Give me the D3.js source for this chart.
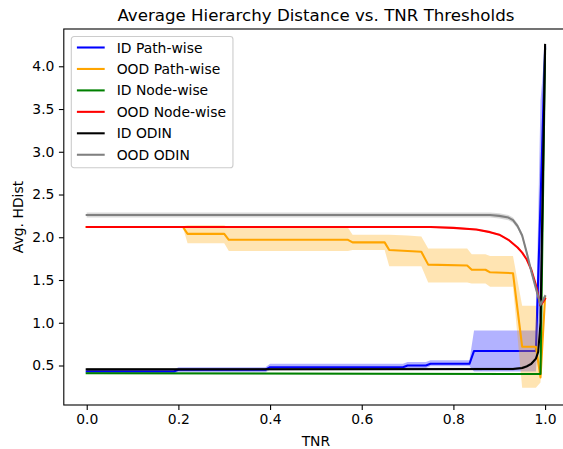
<!DOCTYPE html>
<html>
<head>
<meta charset="utf-8">
<script src="https://cdn.jsdelivr.net/npm/d3@7"></script>
<style>
  body { margin: 0; background: #fff; }
  text { font-family: "DejaVu Sans", sans-serif; fill: #000; }
</style>
</head>
<body>
<script>
  var width = 563
  var height = 449

  // rows: [tnr, mean, lower, upper]
  var idPath = [
    [0.00, 0.43, 0.41, 0.45], [0.19, 0.43, 0.41, 0.45],
    [0.20, 0.45, 0.42, 0.48], [0.39, 0.45, 0.42, 0.48],
    [0.40, 0.48, 0.45, 0.52], [0.69, 0.48, 0.45, 0.52],
    [0.70, 0.50, 0.47, 0.54], [0.74, 0.50, 0.47, 0.54],
    [0.75, 0.52, 0.49, 0.56], [0.835, 0.52, 0.49, 0.56],
    [0.845, 0.67, 0.43, 0.91], [0.98, 0.67, 0.43, 0.91],
    [0.99, 2.40, 1.20, 3.60], [1.00, 4.22, 4.20, 4.24]
  ]
  var oodPath = [
    [0.00, 2.12, 2.11, 2.13], [0.21, 2.12, 2.11, 2.13],
    [0.22, 2.04, 1.93, 2.14], [0.30, 2.04, 1.93, 2.14],
    [0.31, 1.97, 1.84, 2.11], [0.57, 1.97, 1.84, 2.11],
    [0.58, 1.94, 1.85, 2.03], [0.65, 1.94, 1.85, 2.03],
    [0.66, 1.85, 1.66, 2.03], [0.70, 1.84, 1.66, 2.02],
    [0.73, 1.83, 1.66, 2.01], [0.745, 1.68, 1.47, 1.87],
    [0.83, 1.67, 1.47, 1.87], [0.84, 1.62, 1.46, 1.80],
    [0.87, 1.62, 1.46, 1.80], [0.88, 1.59, 1.42, 1.78],
    [0.93, 1.58, 1.42, 1.78], [0.95, 0.72, 0.24, 1.20],
    [0.98, 0.72, 0.24, 1.20], [0.99, 0.36, 0.30, 0.45],
    [1.00, 1.30, 1.25, 1.36]
  ]
  var idNode = [
    [0.00, 0.41, 0.40, 0.42], [0.98, 0.40, 0.39, 0.41],
    [0.99, 0.40, 0.39, 0.41], [1.00, 4.20, 4.18, 4.22]
  ]
  var oodNode = [
    [0.00, 2.12, 2.11, 2.13], [0.75, 2.12, 2.11, 2.13],
    [0.80, 2.11, 2.10, 2.12], [0.85, 2.09, 2.08, 2.10],
    [0.88, 2.06, 2.05, 2.07], [0.90, 2.03, 2.02, 2.04],
    [0.92, 1.97, 1.96, 1.98], [0.94, 1.88, 1.87, 1.89],
    [0.95, 1.82, 1.81, 1.83], [0.96, 1.74, 1.73, 1.75],
    [0.97, 1.62, 1.61, 1.63], [0.98, 1.44, 1.43, 1.45],
    [0.99, 1.20, 1.19, 1.21], [1.00, 1.28, 1.27, 1.29]
  ]
  var idOdin = [
    [0.00, 0.455, 0.44, 0.47], [0.93, 0.46, 0.445, 0.475],
    [0.95, 0.47, 0.455, 0.485], [0.96, 0.49, 0.475, 0.505],
    [0.97, 0.52, 0.505, 0.535], [0.98, 0.58, 0.565, 0.595],
    [0.985, 0.66, 0.645, 0.675], [0.99, 1.00, 0.98, 1.02],
    [1.00, 4.25, 4.23, 4.27]
  ]
  var oodOdin = [
    [0.00, 2.26, 2.23, 2.29], [0.88, 2.26, 2.23, 2.29],
    [0.90, 2.25, 2.22, 2.28], [0.92, 2.23, 2.20, 2.26],
    [0.93, 2.20, 2.17, 2.23], [0.94, 2.13, 2.10, 2.16],
    [0.95, 2.02, 1.99, 2.05], [0.96, 1.82, 1.79, 1.85],
    [0.97, 1.60, 1.57, 1.63], [0.98, 1.40, 1.37, 1.43],
    [0.99, 1.21, 1.18, 1.24], [1.00, 1.31, 1.28, 1.34]
  ]

  var labels = ["ID Path-wise", "OOD Path-wise", "ID Node-wise", "OOD Node-wise", "ID ODIN", "OOD ODIN"]
  var colors = ["blue", "orange", "green", "red", "black", "gray"]
  var xTicks = [0, 0.2, 0.4, 0.6, 0.8, 1.0]
  var yTicks = [0.5, 1.0, 1.5, 2.0, 2.5, 3.0, 3.5, 4.0]

  var series = [idPath, oodPath, idNode, oodNode, idOdin, oodOdin].map(function(d, i) {
    return {label: labels[i], color: colors[i], data: d}
  })

  // axes box (right spine falls just outside the picture)
  var axL = 63.8, axR = 568, axT = 29, axB = 405

  var x = d3.scaleLinear().domain([-0.05, 1.05]).range([axL, axR])
  var y = d3.scaleLinear().domain([0.038, 4.436]).range([axB, axT])

  var svg = d3.select("body").append("svg")
              .attr("width", width)
              .attr("height", height)

  svg.append("defs").append("clipPath").attr("id", "clip")
     .append("rect")
     .attr("x", axL).attr("y", axT)
     .attr("width", axR - axL).attr("height", axB - axT)

  var plot = svg.append("g").attr("clip-path", "url(#clip)")

  var line = d3.line()
               .x(function(d) { return x(d[0]) })
               .y(function(d) { return y(d[1]) })

  var band = d3.area()
               .x(function(d) { return x(d[0]) })
               .y0(function(d) { return y(d[2]) })
               .y1(function(d) { return y(d[3]) })

  series.forEach(function(s) {
    plot.append("path")
        .attr("d", line(s.data))
        .attr("fill", "none")
        .attr("stroke", s.color)
        .attr("stroke-width", 2.08)
        .attr("stroke-linejoin", "round")
        .attr("stroke-linecap", "square")
    plot.append("path")
        .attr("d", band(s.data))
        .attr("fill", s.color)
        .attr("fill-opacity", 0.3)
  })

  // axes
  svg.append("g")
     .attr("transform", "translate(0," + axB + ")")
     .call(d3.axisBottom(x).tickValues(xTicks).tickFormat(d3.format(".1f")).tickSizeInner(4.9).tickSizeOuter(0).tickPadding(4.5))
  svg.append("g")
     .attr("transform", "translate(" + axL + ",0)")
     .call(d3.axisLeft(y).tickValues(yTicks).tickFormat(d3.format(".1f")).tickSizeInner(4.9).tickSizeOuter(0).tickPadding(4.5))

  svg.selectAll(".domain").remove()
  svg.selectAll(".tick line").attr("stroke", "#000").attr("stroke-width", 1.1)
  svg.selectAll(".tick text").style("font-family", "DejaVu Sans").style("font-size", "13.9px").attr("fill", "#000")

  // spines
  svg.append("rect")
     .attr("x", axL).attr("y", axT)
     .attr("width", axR - axL).attr("height", axB - axT)
     .attr("fill", "none").attr("stroke", "#000").attr("stroke-width", 1.1)

  svg.append("text")
     .attr("x", (axL + axR) / 2).attr("y", 20.5)
     .attr("text-anchor", "middle")
     .style("font-size", "16.67px")
     .text("Average Hierarchy Distance vs. TNR Thresholds")

  svg.append("text")
     .attr("x", (axL + axR) / 2).attr("y", 446)
     .attr("text-anchor", "middle")
     .style("font-size", "13.9px")
     .text("TNR")

  svg.append("text")
     .attr("transform", "translate(23," + (axT + axB) / 2 + ") rotate(-90)")
     .attr("text-anchor", "middle")
     .style("font-size", "13.9px")
     .text("Avg. HDist")

  // legend
  var fs = 13.9
  var lg = svg.append("g").attr("transform", "translate(" + (axL + 7.5) + "," + (axT + 7.5) + ")")
  var box = lg.append("rect")
              .attr("fill", "#fff").attr("fill-opacity", 0.8)
              .attr("stroke", "#cccccc").attr("stroke-width", 1.1)
              .attr("rx", 2.8)
  var rowH = 21.45
  var maxW = 0
  series.forEach(function(s, i) {
    var cy = 11 + i * rowH
    lg.append("line")
      .attr("x1", 5.6).attr("x2", 5.6 + 27.8)
      .attr("y1", cy).attr("y2", cy)
      .attr("stroke", s.color).attr("stroke-width", 2.08)
    var t = lg.append("text")
      .attr("x", 5.6 + 27.8 + 12).attr("y", cy + 5)
      .style("font-size", fs + "px")
      .text(s.label)
    maxW = Math.max(maxW, t.node().getComputedTextLength())
  })
  box.attr("width", 5.6 + 27.8 + 12 + maxW + 7)
     .attr("height", 11 + 5 * rowH + 13)
</script>
</body>
</html>
